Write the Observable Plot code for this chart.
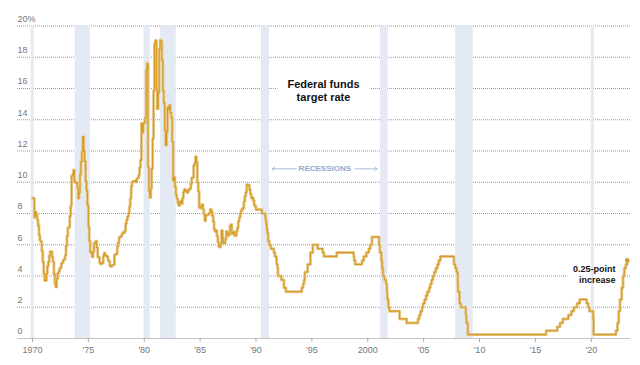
<!DOCTYPE html>
<html><head><meta charset="utf-8">
<script src="https://cdn.jsdelivr.net/npm/d3@7"></script>
<script src="https://cdn.jsdelivr.net/npm/@observablehq/plot@0.6"></script>
<style>
body{margin:0;background:#fff;}
#chart svg{display:block}
</style></head><body><div id="chart"></div>
<script>
// Monthly effective federal funds rate, Jan 1970 – Dec 1979
const effr1970s = [
  8.98, 8.98, 7.76, 8.10, 7.95, 7.61, 7.21, 6.61, 6.29, 6.20, 5.60, 4.90,
  4.14, 3.72, 3.71, 4.15, 4.63, 4.91, 5.31, 5.57, 5.55, 5.20, 4.91, 4.14,
  3.50, 3.29, 3.83, 4.17, 4.27, 4.46, 4.55, 4.80, 4.87, 5.04, 5.06, 5.33,
  5.94, 6.58, 7.09, 7.12, 7.84, 8.49, 10.40, 10.50, 10.78, 10.01, 10.03, 9.95,
  9.65, 8.97, 9.35, 10.51, 11.31, 11.93, 12.92, 12.01, 11.34, 10.06, 9.45, 8.53,
  7.13, 6.24, 5.54, 5.49, 5.22, 5.55, 6.10, 6.14, 6.24, 5.82, 5.22, 5.20,
  4.87, 4.77, 4.84, 4.82, 5.29, 5.48, 5.31, 5.29, 5.25, 5.03, 4.95, 4.65,
  4.61, 4.68, 4.69, 4.73, 5.35, 5.39, 5.42, 5.90, 6.14, 6.47, 6.51, 6.56,
  6.70, 6.78, 6.79, 6.89, 7.36, 7.60, 7.81, 8.04, 8.45, 8.96, 9.76, 10.03,
  10.07, 10.06, 10.09, 10.01, 10.24, 10.29, 10.47, 10.94, 11.43, 13.77, 13.18, 13.78
];
// Monthly, Jan 1980 – Dec 1989
const effr1980s = [
  13.82, 14.13, 17.19, 17.61, 10.98, 9.47, 9.03, 9.61, 10.87, 12.81, 15.85, 18.90,
  19.08, 15.93, 14.70, 15.72, 18.52, 19.10, 19.04, 17.82, 15.87, 15.08, 13.31, 12.37,
  13.22, 14.78, 14.68, 14.94, 14.45, 14.15, 12.59, 10.12, 10.31, 9.71, 9.20, 8.95,
  8.68, 8.51, 8.77, 8.80, 8.63, 8.98, 9.37, 9.56, 9.45, 9.48, 9.34, 9.47,
  9.56, 9.59, 9.91, 10.29, 10.32, 11.06, 11.23, 11.64, 11.30, 9.99, 9.43, 8.38,
  8.35, 8.50, 8.58, 8.27, 7.97, 7.53, 7.88, 7.90, 7.92, 7.99, 8.05, 8.27,
  8.14, 7.86, 7.48, 6.99, 6.85, 6.92, 6.56, 6.17, 5.89, 5.85, 6.04, 6.91,
  6.43, 6.10, 6.13, 6.37, 6.85, 6.73, 6.58, 6.73, 7.22, 7.29, 6.69, 6.77,
  6.83, 6.58, 6.58, 6.87, 7.09, 7.51, 7.75, 8.01, 8.19, 8.30, 8.35, 8.76,
  9.12, 9.36, 9.85, 9.84, 9.81, 9.53, 9.24, 8.99, 9.02, 8.84, 8.55, 8.45
];
// Target rate changes from 1990 on
const targetDates = [
  "1990-01-01","1990-07-13","1990-10-29","1990-11-13","1990-12-07","1990-12-18",
  "1991-01-08","1991-02-01","1991-03-08","1991-04-30","1991-08-06","1991-09-13","1991-10-31","1991-11-06","1991-12-06","1991-12-20",
  "1992-04-09","1992-07-02","1992-09-04",
  "1994-02-04","1994-03-22","1994-04-18","1994-05-17","1994-08-16","1994-11-15",
  "1995-02-01","1995-07-06","1995-12-19","1996-01-31","1997-03-25",
  "1998-09-29","1998-10-15","1998-11-17","1999-06-30","1999-08-24","1999-11-16",
  "2000-02-02","2000-03-21","2000-05-16",
  "2001-01-03","2001-01-31","2001-03-20","2001-04-18","2001-05-15","2001-06-27","2001-08-21","2001-09-17","2001-10-02","2001-11-06","2001-12-11",
  "2002-11-06","2003-06-25",
  "2004-06-30","2004-08-10","2004-09-21","2004-11-10","2004-12-14",
  "2005-02-02","2005-03-22","2005-05-03","2005-06-30","2005-08-09","2005-09-20","2005-11-01","2005-12-13",
  "2006-01-31","2006-03-28","2006-05-10","2006-06-29",
  "2007-09-18","2007-10-31","2007-12-11",
  "2008-01-22","2008-01-30","2008-03-18","2008-04-30","2008-10-08","2008-10-29","2008-12-16",
  "2015-12-16","2016-12-14","2017-03-15","2017-06-14","2017-12-13",
  "2018-03-21","2018-06-13","2018-09-26","2018-12-19",
  "2019-08-01","2019-09-19","2019-10-31","2020-03-03","2020-03-16",
  "2022-03-17","2022-05-05","2022-06-16","2022-07-28","2022-09-22","2022-11-03","2022-12-15",
  "2023-02-02","2023-03-23"
];
const targetRates = [
  8.25, 8.00, 7.75, 7.50, 7.25, 7.00,
  6.75, 6.25, 6.00, 5.75, 5.50, 5.25, 5.00, 4.75, 4.50, 4.00,
  3.75, 3.25, 3.00,
  3.25, 3.50, 3.75, 4.25, 4.75, 5.50,
  6.00, 5.75, 5.50, 5.25, 5.50,
  5.25, 5.00, 4.75, 5.00, 5.25, 5.50,
  5.75, 6.00, 6.50,
  6.00, 5.50, 5.00, 4.50, 4.00, 3.75, 3.50, 3.00, 2.50, 2.00, 1.75,
  1.25, 1.00,
  1.25, 1.50, 1.75, 2.00, 2.25,
  2.50, 2.75, 3.00, 3.25, 3.50, 3.75, 4.00, 4.25,
  4.50, 4.75, 5.00, 5.25,
  4.75, 4.50, 4.25,
  3.50, 3.00, 2.25, 2.00, 1.50, 1.00, 0.25,
  0.50, 0.75, 1.00, 1.25, 1.50,
  1.75, 2.00, 2.25, 2.50,
  2.25, 2.00, 1.75, 1.25, 0.25,
  0.50, 1.00, 1.75, 2.50, 3.25, 4.00, 4.50,
  4.75, 5.00
];
const recessionStarts = [1969.88, 1973.82, 1979.97, 1981.46, 1990.47, 2001.14, 2007.86, 2020.0];
const recessionEnds   = [1970.15, 1975.19, 1980.54, 1982.86, 1991.21, 2001.83, 2009.44, 2020.27];
const xTicks = [1970, 1975, 1980, 1985, 1990, 1995, 2000, 2005, 2010, 2015, 2020];
const yTicks = [0, 2, 4, 6, 8, 10, 12, 14, 16, 18, 20];

const toYear = s => {
  const d = Date.parse(s + "T00:00:00Z");
  const y = +s.slice(0, 4);
  const a = Date.UTC(y, 0, 1), b = Date.UTC(y + 1, 0, 1);
  return y + (d - a) / (b - a);
};
const series = [...effr1970s, ...effr1980s].map((v, i) => ({x: 1970 + i / 12, y: v}))
  .concat(targetDates.map((d, i) => ({x: toYear(d), y: targetRates[i]})));
const recessions = recessionStarts.map((s, i) => ({start: s, end: recessionEnds[i]}));

const titleNote = [{x: 1996.04, y: 15.9, text: "Federal funds\ntarget rate"}];
const recNote = [{x: 1996.16, y: 10.86, text: "RECESSIONS"}];
const recArrows = [{x1: 1993.6, x2: 1991.45, y: 10.86}, {x1: 1998.85, x2: 2000.85, y: 10.86}];
const endNote = [{x: 2022.17, y: 4.11, text: "0.25-point\nincrease"}];

const sans = "'Liberation Sans', Arial, sans-serif";
const fmtX = d => (d === 1970 || d === 2000) ? String(d) : "'" + String(d).slice(2);

const chart = Plot.plot({
  width: 640, height: 365,
  marginLeft: 17, marginRight: 10, marginTop: 25.5, marginBottom: 27,
  x: {domain: [1968.66, 2023.51], label: null},
  y: {domain: [0, 20], label: null},
  style: {fontFamily: sans, background: "#fff", color: "#777"},
  marks: [
    Plot.gridY(yTicks.filter(d => d > 0), {stroke: "#999", strokeOpacity: 1, strokeDasharray: "1,1"}),
    Plot.text(titleNote, {x: "x", y: "y", text: "text", fontSize: 11, fontWeight: "bold", lineHeight: 1.23, fill: "white", stroke: "white", strokeWidth: 22, strokeLinejoin: "round"}),
    Plot.text(endNote, {x: "x", y: "y", text: "text", textAnchor: "end", fontSize: 9, fontWeight: "bold", lineHeight: 1.18, fill: "white", stroke: "white", strokeWidth: 16, strokeLinejoin: "round"}),
    Plot.rect(recessions, {x1: "start", x2: "end", fill: "#e4eaf3"}),
    Plot.ruleY([0], {stroke: "#c4c4c4", strokeWidth: 1}),
    Plot.axisY({ticks: yTicks, anchor: "left", tickSize: 0, tickPadding: 0, textAnchor: "start", dy: -7, fill: "#777", fontSize: 9, label: null,
      tickFormat: d => d === 20 ? "20%" : String(d)}),
    Plot.axisX({ticks: xTicks, tickSize: 4, tickPadding: 4, stroke: "#aaa", fill: "#777", fontSize: 9, label: null, tickFormat: fmtX}),
    Plot.line(series, {x: "x", y: "y", curve: "step-after", stroke: "#e8cb90", strokeWidth: 3}),
    Plot.line(series, {x: "x", y: "y", curve: "step-after", stroke: "#d49c26", strokeWidth: 1.2}),
    Plot.dot(series.slice(-1), {x: "x", y: "y", r: 2.3, fill: "#d49c26"}),
    Plot.text(titleNote, {x: "x", y: "y", text: "text", fontSize: 11, fontWeight: "bold", lineHeight: 1.23, fill: "#111"}),
    Plot.arrow(recArrows, {x1: "x1", x2: "x2", y1: "y", y2: "y", stroke: "#a9bddb", strokeWidth: 1, headLength: 4, headAngle: 70}),
    Plot.text(recNote, {x: "x", y: "y", text: "text", fontSize: 8, fontWeight: "bold", fill: "#91a9d3"}),
    Plot.text(endNote, {x: "x", y: "y", text: "text", textAnchor: "end", fontSize: 9, fontWeight: "bold", lineHeight: 1.18, fill: "#111"})
  ]
});
document.getElementById("chart").append(chart);
</script>
</body></html>
